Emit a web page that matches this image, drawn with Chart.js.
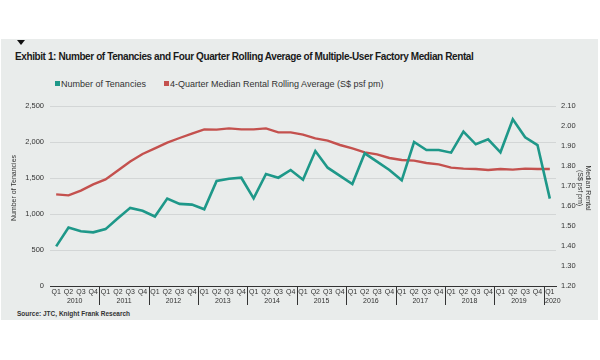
<!DOCTYPE html>
<html>
<head>
<meta charset="utf-8">
<script src="https://cdn.jsdelivr.net/npm/chart.js@4"></script>
<style>
  body { margin: 0; background: #fff; font-family: "Liberation Sans", Arial, sans-serif; }
  #wrap { position: relative; width: 600px; height: 360px; overflow: hidden; }
  #panel { position: absolute; left: 1px; top: 39px; width: 597px; height: 281px; background: #e9eceb; }
  #tri { position: absolute; left: 17px; top: 40px; width: 0; height: 0;
         border-left: 4.5px solid transparent; border-right: 4.5px solid transparent; border-top: 5px solid #111; }
  #title { position: absolute; left: 15px; top: 51px; font-size: 10px; font-weight: bold; color: #1a1a1a;
           letter-spacing: -0.4px; white-space: nowrap; }
  .leg { position: absolute; top: 79px; font-size: 9px; color: #333; white-space: nowrap; }
  .leg i { display: inline-block; width: 5px; height: 5px; margin-right: 1px; vertical-align: 1px; }
  #source { position: absolute; left: 17px; top: 310px; font-size: 6.5px; font-weight: bold; color: #333; }
  canvas { position: absolute; left: 0; top: 0; }
</style>
</head>
<body>
<div id="wrap">
  <div id="panel"></div>
  <div id="tri"></div>
  <div id="title">Exhibit 1: Number of Tenancies and Four Quarter Rolling Average of Multiple-User Factory Median Rental</div>
  <div class="leg" style="left:55px"><i style="background:#1e9889"></i>Number of Tenancies</div>
  <div class="leg" style="left:164px"><i style="background:#c4514e"></i>4-Quarter Median Rental Rolling Average (S$ psf pm)</div>
  <div id="source">Source: JTC, Knight Frank Research</div>
  <canvas id="chart" width="600" height="360"></canvas>
</div>
<script>
// données
const years = [2010, 2011, 2012, 2013, 2014, 2015, 2016, 2017, 2018, 2019, 2020];
const quarters = ["Q1", "Q2", "Q3", "Q4"];

const tenancies = [
  550, 812, 760, 745, 790, 940, 1085, 1045,   // 2010-2011
  965, 1215, 1140, 1130, 1065, 1458, 1490, 1504, // 2012-2013
  1218, 1556, 1504, 1611, 1476, 1875, 1643, 1530, // 2014-2015
  1417, 1843, 1727, 1611, 1468, 2000, 1889, 1889, // 2016-2017
  1852, 2143, 1968, 2037, 1857, 2315, 2065, 1958, // 2018-2019
  1213 // 2020
];

const rentalAvg = [
  1.658, 1.653, 1.677, 1.708, 1.733, 1.777, 1.822, 1.86,
  1.888, 1.917, 1.94, 1.962, 1.983, 1.982, 1.988, 1.983,
  1.983, 1.988, 1.968, 1.968, 1.957, 1.938, 1.927, 1.905,
  1.888, 1.868, 1.858, 1.84, 1.83, 1.827, 1.815, 1.808,
  1.792, 1.787, 1.785, 1.78, 1.785, 1.782, 1.787, 1.785,
  1.785
];

const leftTicks = [0, 500, 1000, 1500, 2000, 2500];
const rightTicks = [1.2, 1.3, 1.4, 1.5, 1.6, 1.7, 1.8, 1.9, 2.0, 2.1];

// labels Q1..Q4 par année
const labels = [];
const yearOf = [];
years.forEach((y) => {
  quarters.forEach((q) => {
    if (labels.length < tenancies.length) {
      labels.push(q);
      yearOf.push(y);
    }
  });
});

const FONT = '"Liberation Sans", Arial, sans-serif';

// séparateurs d'années + titres des axes
const extras = {
  id: "extras",
  afterDraw(chart) {
    const ctx = chart.ctx;
    const x = chart.scales.x;
    const bottom = chart.chartArea.bottom;
    ctx.save();
    ctx.strokeStyle = "#333";
    ctx.lineWidth = 1;
    ctx.fillStyle = "#333";
    ctx.font = "7px " + FONT;
    ctx.textAlign = "center";
    ctx.textBaseline = "middle";
    years.forEach((y) => {
      const idx = [];
      yearOf.forEach((yy, i) => { if (yy === y) idx.push(i); });
      if (!idx.length) return;
      const first = idx[0];
      if (first > 0) {
        const sx = Math.round((x.getPixelForValue(first - 1) + x.getPixelForValue(first)) / 2) + 0.5;
        ctx.beginPath();
        ctx.moveTo(sx, bottom);
        ctx.lineTo(sx, bottom + 19);
        ctx.stroke();
      }
      const cx = (x.getPixelForValue(idx[0]) + x.getPixelForValue(idx[idx.length - 1])) / 2;
      ctx.fillText(String(y), cx + (idx.length === 1 ? 3 : 0), bottom + 15);
    });

    // titres des axes
    ctx.save();
    ctx.translate(14, 188);
    ctx.rotate(-Math.PI / 2);
    ctx.fillText("Number of Tenancies", 0, 0);
    ctx.restore();
    ctx.save();
    ctx.translate(584, 188);
    ctx.rotate(Math.PI / 2);
    ctx.fillText("Median Rental", 0, -4);
    ctx.fillText("(S$ psf pm)", 0, 4);
    ctx.restore();
    ctx.restore();
  },
};

new Chart(document.getElementById("chart"), {
  type: "line",
  data: {
    labels: labels,
    datasets: [
      {
        label: "Number of Tenancies",
        data: tenancies,
        yAxisID: "y",
        borderColor: "#1e9889",
        borderWidth: 2.6,
        pointRadius: 0,
        tension: 0,
        order: 1,
      },
      {
        label: "4-Quarter Median Rental Rolling Average (S$ psf pm)",
        data: rentalAvg,
        yAxisID: "y1",
        borderColor: "#c4514e",
        borderWidth: 2.4,
        pointRadius: 0,
        tension: 0,
        order: 2,
      },
    ],
  },
  options: {
    responsive: false,
    animation: false,
    layout: { padding: { top: 106, left: 0, right: 0, bottom: 0 } },
    plugins: { legend: { display: false }, tooltip: { enabled: false } },
    scales: {
      x: {
        offset: true,
        grid: { display: false, drawTicks: false },
        border: { display: true, color: "#333", width: 1 },
        ticks: {
          autoSkip: false,
          maxRotation: 0,
          padding: 2,
          color: "#333",
          font: { size: 7, family: FONT },
        },
        afterFit: (s) => { s.height = 74; },
      },
      y: {
        position: "left",
        min: 0,
        max: 2500,
        afterBuildTicks: (s) => { s.ticks = leftTicks.map((v) => ({ value: v })); },
        grid: { color: "#d3d6d6", lineWidth: 1, drawTicks: false },
        border: { display: false },
        ticks: {
          padding: 6,
          color: "#333",
          font: { size: 7.5, family: FONT },
          callback: (v) => v.toLocaleString("en-US"),
        },
        afterFit: (s) => { s.width = 50; },
      },
      y1: {
        position: "right",
        min: 1.2,
        max: 2.1,
        afterBuildTicks: (s) => { s.ticks = rightTicks.map((v) => ({ value: v })); },
        grid: { display: false, drawTicks: false },
        border: { display: false },
        ticks: {
          padding: 5,
          color: "#333",
          font: { size: 7.5, family: FONT },
          callback: (v) => v.toFixed(2),
        },
        afterFit: (s) => { s.width = 44; },
      },
    },
  },
  plugins: [extras],
});
</script>
</body>
</html>
